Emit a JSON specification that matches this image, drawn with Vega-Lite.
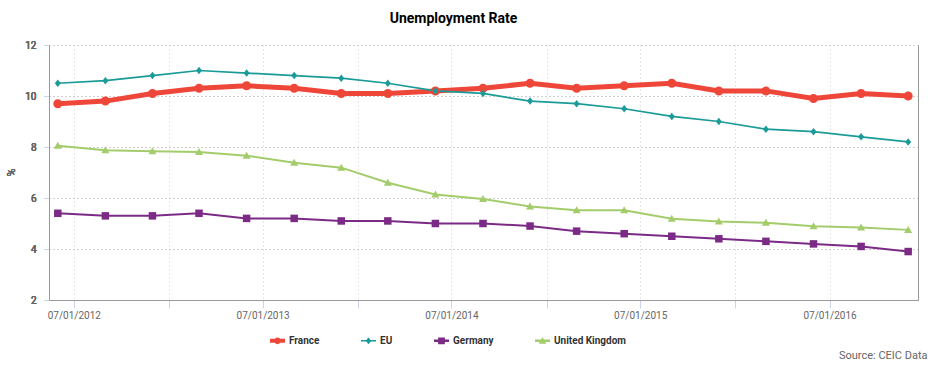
{
  "$schema": "https://vega.github.io/schema/vega-lite/v6.json",
  "autosize": {"type": "none"},
  "width": 869,
  "height": 255,
  "padding": {"left": 49, "top": 45, "right": 15, "bottom": 67},
  "background": "white",
  "config": {"view": {"stroke": null}, "font": "Roboto"},
  "title": {"text": "Unemployment Rate", "font": "Roboto", "fontSize": 14, "fontWeight": "bold", "color": "#000", "anchor": "middle", "dx": -30, "offset": 14},
  "data": {"values": [
    {"date": "2012-05-31", "country": "France", "rate": 9.7},
    {"date": "2012-08-31", "country": "France", "rate": 9.8},
    {"date": "2012-11-30", "country": "France", "rate": 10.1},
    {"date": "2013-02-28", "country": "France", "rate": 10.3},
    {"date": "2013-05-31", "country": "France", "rate": 10.4},
    {"date": "2013-08-31", "country": "France", "rate": 10.3},
    {"date": "2013-11-30", "country": "France", "rate": 10.1},
    {"date": "2014-02-28", "country": "France", "rate": 10.1},
    {"date": "2014-05-31", "country": "France", "rate": 10.2},
    {"date": "2014-08-31", "country": "France", "rate": 10.3},
    {"date": "2014-11-30", "country": "France", "rate": 10.5},
    {"date": "2015-02-28", "country": "France", "rate": 10.3},
    {"date": "2015-05-31", "country": "France", "rate": 10.4},
    {"date": "2015-08-31", "country": "France", "rate": 10.5},
    {"date": "2015-11-30", "country": "France", "rate": 10.2},
    {"date": "2016-02-29", "country": "France", "rate": 10.2},
    {"date": "2016-05-31", "country": "France", "rate": 9.9},
    {"date": "2016-08-31", "country": "France", "rate": 10.1},
    {"date": "2016-11-30", "country": "France", "rate": 10.0},
    {"date": "2012-05-31", "country": "EU", "rate": 10.5},
    {"date": "2012-08-31", "country": "EU", "rate": 10.6},
    {"date": "2012-11-30", "country": "EU", "rate": 10.8},
    {"date": "2013-02-28", "country": "EU", "rate": 11.0},
    {"date": "2013-05-31", "country": "EU", "rate": 10.9},
    {"date": "2013-08-31", "country": "EU", "rate": 10.8},
    {"date": "2013-11-30", "country": "EU", "rate": 10.7},
    {"date": "2014-02-28", "country": "EU", "rate": 10.5},
    {"date": "2014-05-31", "country": "EU", "rate": 10.2},
    {"date": "2014-08-31", "country": "EU", "rate": 10.1},
    {"date": "2014-11-30", "country": "EU", "rate": 9.8},
    {"date": "2015-02-28", "country": "EU", "rate": 9.7},
    {"date": "2015-05-31", "country": "EU", "rate": 9.5},
    {"date": "2015-08-31", "country": "EU", "rate": 9.2},
    {"date": "2015-11-30", "country": "EU", "rate": 9.0},
    {"date": "2016-02-29", "country": "EU", "rate": 8.7},
    {"date": "2016-05-31", "country": "EU", "rate": 8.6},
    {"date": "2016-08-31", "country": "EU", "rate": 8.4},
    {"date": "2016-11-30", "country": "EU", "rate": 8.2},
    {"date": "2012-05-31", "country": "Germany", "rate": 5.4},
    {"date": "2012-08-31", "country": "Germany", "rate": 5.3},
    {"date": "2012-11-30", "country": "Germany", "rate": 5.3},
    {"date": "2013-02-28", "country": "Germany", "rate": 5.4},
    {"date": "2013-05-31", "country": "Germany", "rate": 5.2},
    {"date": "2013-08-31", "country": "Germany", "rate": 5.2},
    {"date": "2013-11-30", "country": "Germany", "rate": 5.1},
    {"date": "2014-02-28", "country": "Germany", "rate": 5.1},
    {"date": "2014-05-31", "country": "Germany", "rate": 5.0},
    {"date": "2014-08-31", "country": "Germany", "rate": 5.0},
    {"date": "2014-11-30", "country": "Germany", "rate": 4.9},
    {"date": "2015-02-28", "country": "Germany", "rate": 4.7},
    {"date": "2015-05-31", "country": "Germany", "rate": 4.6},
    {"date": "2015-08-31", "country": "Germany", "rate": 4.5},
    {"date": "2015-11-30", "country": "Germany", "rate": 4.4},
    {"date": "2016-02-29", "country": "Germany", "rate": 4.3},
    {"date": "2016-05-31", "country": "Germany", "rate": 4.2},
    {"date": "2016-08-31", "country": "Germany", "rate": 4.1},
    {"date": "2016-11-30", "country": "Germany", "rate": 3.9},
    {"date": "2012-05-31", "country": "United Kingdom", "rate": 8.05},
    {"date": "2012-08-31", "country": "United Kingdom", "rate": 7.87},
    {"date": "2012-11-30", "country": "United Kingdom", "rate": 7.83},
    {"date": "2013-02-28", "country": "United Kingdom", "rate": 7.8},
    {"date": "2013-05-31", "country": "United Kingdom", "rate": 7.66},
    {"date": "2013-08-31", "country": "United Kingdom", "rate": 7.38},
    {"date": "2013-11-30", "country": "United Kingdom", "rate": 7.19},
    {"date": "2014-02-28", "country": "United Kingdom", "rate": 6.6},
    {"date": "2014-05-31", "country": "United Kingdom", "rate": 6.14},
    {"date": "2014-08-31", "country": "United Kingdom", "rate": 5.96},
    {"date": "2014-11-30", "country": "United Kingdom", "rate": 5.67},
    {"date": "2015-02-28", "country": "United Kingdom", "rate": 5.52},
    {"date": "2015-05-31", "country": "United Kingdom", "rate": 5.52},
    {"date": "2015-08-31", "country": "United Kingdom", "rate": 5.19},
    {"date": "2015-11-30", "country": "United Kingdom", "rate": 5.08},
    {"date": "2016-02-29", "country": "United Kingdom", "rate": 5.03},
    {"date": "2016-05-31", "country": "United Kingdom", "rate": 4.89},
    {"date": "2016-08-31", "country": "United Kingdom", "rate": 4.84},
    {"date": "2016-11-30", "country": "United Kingdom", "rate": 4.75}
  ]},
  "encoding": {
    "x": {
      "field": "date", "type": "temporal",
      "scale": {"type": "utc", "domain": [{"year": 2012, "month": 5, "date": 14, "utc": true}, {"year": 2016, "month": 12, "date": 19, "utc": true}]},
      "axis": {
        "values": [
          {"year": 2012, "month": 7, "date": 1, "utc": true},
          {"year": 2013, "month": 1, "date": 1, "utc": true},
          {"year": 2013, "month": 7, "date": 1, "utc": true},
          {"year": 2014, "month": 1, "date": 1, "utc": true},
          {"year": 2014, "month": 7, "date": 1, "utc": true},
          {"year": 2015, "month": 1, "date": 1, "utc": true},
          {"year": 2015, "month": 7, "date": 1, "utc": true},
          {"year": 2016, "month": 1, "date": 1, "utc": true},
          {"year": 2016, "month": 7, "date": 1, "utc": true}
        ],
        "labelExpr": "utcmonth(datum.value) == 6 ? utcFormat(datum.value, '%m/%d/%Y') : ''",
        "grid": true, "gridDash": [1, 3], "gridColor": "#cfcfcf",
        "domainColor": "#999", "tickColor": "#ccd6eb", "tickSize": 8,
        "labelPadding": 2, "labelFont": "Roboto", "labelFontSize": 10, "labelColor": "#666", "labelFlush": false, "labelOverlap": false,
        "title": "Source: CEIC Data", "titleX": 878, "titleY": 55, "titleAlign": "right", "titleBaseline": "middle",
        "titleFont": "Roboto", "titleFontSize": 11, "titleFontWeight": "normal", "titleColor": "#666"
      }
    },
    "y": {
      "field": "rate", "type": "quantitative",
      "scale": {"domain": [2, 12], "nice": false, "zero": false},
      "axis": {
        "orient": "left", "values": [2, 4, 6, 8, 10, 12],
        "grid": true, "gridDash": [1, 3], "gridColor": "#cfcfcf",
        "domainColor": "#999", "tickColor": "#ccd6eb", "tickSize": 5,
        "labelPadding": 8, "labelFont": "Roboto", "labelFontSize": 10, "labelColor": "#666",
        "title": "%", "titleX": -38, "titleY": 127, "titleAngle": -90, "titleAlign": "center", "titleBaseline": "middle",
        "titleFont": "Roboto", "titleFontSize": 11, "titleFontWeight": "normal", "titleColor": "#666"
      }
    }
  },
  "layer": [
    {
      "mark": {"type": "line"},
      "encoding": {
        "stroke": {"field": "country", "type": "nominal", "legend": null,
          "scale": {"domain": ["EU", "France", "Germany", "United Kingdom"], "range": ["#199b98", "#ee473a", "#7b2b85", "#a3cc6b"]}},
        "strokeWidth": {"condition": [{"test": "datum.country == 'France'", "value": 5}, {"test": "datum.country == 'EU'", "value": 1.7}], "value": 2}
      }
    },
    {
      "transform": [{"filter": "datum.country == 'France'"}],
      "mark": {"type": "point", "filled": true, "size": 100, "opacity": 1, "strokeWidth": 0, "shape": "M-0.9,0A0.9,0.9 0 1,1 0.9,0A0.9,0.9 0 1,1 -0.9,0Z"},
      "encoding": {"fill": {"field": "country", "type": "nominal", "legend": null,
        "scale": {"domain": ["EU", "France", "Germany", "United Kingdom"], "range": ["#199b98", "#ee473a", "#7b2b85", "#a3cc6b"]}}}
    },
    {
      "transform": [{"filter": "datum.country == 'EU'"}],
      "mark": {"type": "point", "filled": true, "size": 100, "opacity": 1, "strokeWidth": 0, "shape": "M0,-0.75L0.6,0L0,0.75L-0.6,0Z"},
      "encoding": {"fill": {"field": "country", "type": "nominal", "legend": null}}
    },
    {
      "transform": [{"filter": "datum.country == 'Germany'"}],
      "mark": {"type": "point", "filled": true, "size": 100, "opacity": 1, "strokeWidth": 0, "shape": "M-0.75,-0.75H0.75V0.75H-0.75Z"},
      "encoding": {"fill": {"field": "country", "type": "nominal", "legend": null}}
    },
    {
      "transform": [{"filter": "datum.country == 'United Kingdom'"}],
      "mark": {"type": "point", "filled": true, "size": 100, "opacity": 1, "strokeWidth": 0, "shape": "M0,-0.8L0.8,0.6L-0.8,0.6Z"},
      "encoding": {"fill": {"field": "country", "type": "nominal", "legend": null}}
    },
    {
      "transform": [{"filter": "datum.country == 'none'"}],
      "mark": {"type": "point", "filled": true, "size": 225, "opacity": 1, "strokeWidth": 0},
      "encoding": {
        "y": {"field": "rate", "type": "quantitative", "scale": {"domain": [2, 12], "nice": false, "zero": false},
          "axis": {"orient": "right", "labels": false, "ticks": false, "grid": false, "domain": true, "domainColor": "#999", "title": null}},
        "color": {"field": "country", "type": "nominal",
          "scale": {"domain": ["France", "EU", "Germany", "United Kingdom"], "range": ["#ee473a", "#199b98", "#7b2b85", "#a3cc6b"]},
          "legend": {
            "orient": "none", "legendX": 221, "legendY": 288, "direction": "horizontal", "title": null,
            "symbolSize": 225, "symbolStrokeWidth": 0, "symbolOpacity": 1, "labelFont": "Roboto", "labelFontSize": 10, "labelFontWeight": "bold",
            "labelColor": "#333", "labelOffset": 4, "columnPadding": 41, "padding": 0
          }},
        "shape": {"field": "country", "type": "nominal",
          "scale": {"domain": ["France", "EU", "Germany", "United Kingdom"], "range": [
            "M-1,-0.27H1V0.27H-1ZM-0.45,0A0.45,0.45 0 1,1 0.45,0A0.45,0.45 0 1,1 -0.45,0Z",
            "M-1,-0.1H1V0.1H-1ZM0,-0.45L0.38,0L0,0.45L-0.38,0Z",
            "M-1,-0.17H1V0.17H-1ZM-0.45,-0.45H0.45V0.45H-0.45Z",
            "M-1,-0.17H1V0.17H-1ZM0,-0.5L0.5,0.4L-0.5,0.4Z"
          ]},
          "legend": {
            "orient": "none", "legendX": 221, "legendY": 288, "direction": "horizontal", "title": null,
            "symbolSize": 225, "symbolStrokeWidth": 0, "symbolOpacity": 1, "labelFont": "Roboto", "labelFontSize": 10, "labelFontWeight": "bold",
            "labelColor": "#333", "labelOffset": 4, "columnPadding": 41, "padding": 0
          }
        }
      }
    }
  ],
  "resolve": {"axis": {"y": "independent"}}
}
